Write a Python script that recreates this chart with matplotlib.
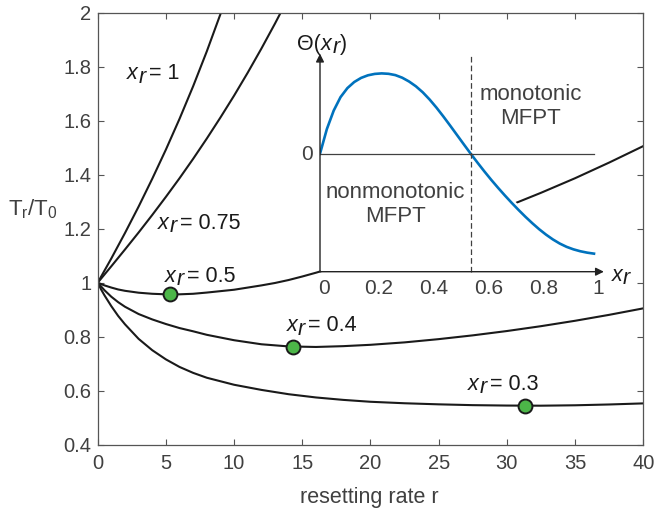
import numpy as np
import matplotlib
matplotlib.use('Agg')
import matplotlib.pyplot as plt
import matplotlib.patheffects as pe

plt.rcParams['font.family'] = ['Liberation Sans', 'DejaVu Sans']
plt.rcParams['mathtext.fontset'] = 'custom'
plt.rcParams['mathtext.rm'] = 'Liberation Sans'
plt.rcParams['mathtext.it'] = 'Liberation Sans:italic'

# T_r/T_0 against resetting rate r, one curve per resetting position x_r
r_1 = [0, 1, 2, 3, 4, 5, 6, 7, 8, 9, 9.3]
t_1 = [1.0, 1.09, 1.184, 1.282, 1.385, 1.493, 1.607, 1.728, 1.857, 1.995, 2.04]

r_075 = [0, 1, 2, 3, 4, 5, 6, 7, 8, 9, 10, 11, 12, 13, 14]
t_075 = [1.0, 1.061, 1.123, 1.186, 1.251, 1.318, 1.387, 1.459, 1.534, 1.612,
         1.693, 1.778, 1.867, 1.96, 2.057]

r_05 = [0, 0.5, 1, 1.5, 2, 3, 4, 5, 6, 7, 8, 10, 12, 13, 14, 15, 16, 18, 20,
        22.5, 25, 27.5, 30, 32.5, 35, 37.5, 40]
t_05 = [1.0, 0.99, 0.982, 0.975, 0.97, 0.963, 0.959, 0.957, 0.957, 0.959, 0.9635,
        0.974, 0.99, 0.999, 1.01, 1.023, 1.037, 1.067, 1.099, 1.141, 1.186, 1.233,
        1.282, 1.333, 1.387, 1.445, 1.506]

r_04 = [0, 0.5, 1, 1.5, 2, 3, 4, 5, 6, 7, 8, 10, 12, 14, 16, 18, 20, 22.5, 25,
        27.5, 30, 32.5, 35, 37.5, 40]
t_04 = [1.0, 0.972, 0.948, 0.928, 0.911, 0.884, 0.864, 0.847, 0.832, 0.82, 0.807,
        0.787, 0.772, 0.764, 0.762, 0.765, 0.77, 0.779, 0.791, 0.805, 0.821,
        0.839, 0.859, 0.881, 0.905]

r_03 = [0, 0.25, 0.5, 1, 1.5, 2, 3, 4, 5, 6, 7, 8, 10, 12, 14, 16, 18, 20, 22.5,
        25, 27.5, 30, 32.5, 35, 37.5, 40]
t_03 = [1.0, 0.975, 0.953, 0.913, 0.877, 0.846, 0.792, 0.75, 0.716, 0.688, 0.666,
        0.648, 0.622, 0.603, 0.587, 0.575, 0.566, 0.559, 0.5535, 0.5495, 0.5465,
        0.545, 0.5445, 0.546, 0.549, 0.553]

xr_names = ['1', '0.75', '0.5', '0.4', '0.3']

# optimal resetting rates (green dots)
r_opt = [5.3, 14.3, 31.3]
t_opt = [0.957, 0.762, 0.544]

# inset: Theta(x_r), read every 0.025
x_in = np.linspace(0, 1, 41)
theta = [0, 0.246, 0.431, 0.566, 0.656, 0.717, 0.758, 0.784, 0.798, 0.803,
         0.799, 0.786, 0.760, 0.722, 0.674, 0.614, 0.542, 0.461, 0.373, 0.281,
         0.187, 0.093, 0.0, -0.09, -0.1775, -0.2615, -0.3415, -0.4185, -0.4925,
         -0.5635, -0.6315, -0.6955, -0.7555, -0.8095, -0.8575, -0.8985, -0.9315,
         -0.9565, -0.9755, -0.9895, -0.9995]
x_crit = 0.55
in_ticks = [0, 0.2, 0.4, 0.6, 0.8, 1]
in_ticklabels = ['0', '0.2', '0.4', '0.6', '0.8', '1']

xticks = np.arange(0, 41, 5)
yticks = [0.4, 0.6, 0.8, 1.0, 1.2, 1.4, 1.6, 1.8, 2.0]
yticklabels = ['0.4', '0.6', '0.8', '1', '1.2', '1.4', '1.6', '1.8', '2']

ink = '#1a1a1a'
grey = '#404040'


def chain_text(a, x, y, parts, size, color=ink):
    # pieces of text set one after another: (text, style, drop in pt, gap in pt)
    s, st, drop, _ = parts[0]
    t = a.text(x, y, s, style=st, size=size, color=color)
    for s, st, d, gap in parts[1:]:
        t = a.annotate(s, xy=(1, 0), xycoords=t, xytext=(gap, drop - d),
                       textcoords='offset points', style=st, size=size,
                       color=color, ha='left', va='bottom')
        drop = d
    return t


def xr_parts(rest=None):
    parts = [('x', 'italic', 0, 0), ('r', 'italic', 2.5, 0.4)]
    if rest:
        parts.append((rest, 'normal', 0, 2.2))
    return parts


fig = plt.figure(figsize=(6.57, 5.15), dpi=100)
ax = fig.add_axes([0.1487, 0.1365, 0.8304, 0.8388])

for r, t in [(r_1, t_1), (r_075, t_075), (r_05, t_05), (r_04, t_04), (r_03, t_03)]:
    ax.plot(r, t, color=ink, lw=1.5)
ax.plot(r_opt, t_opt, 'o', ms=10, mfc='#4cb648', mec=ink, mew=1.4, zorder=5)

ax.set_xlim(0, 40)
ax.set_ylim(0.4, 2)
ax.set_xticks(xticks)
ax.set_yticks(yticks)
ax.set_yticklabels(yticklabels)
ax.tick_params(direction='in', top=True, right=True, length=4, width=0.8,
               color='#555555', labelcolor=grey, labelsize=14.5)
ax.tick_params(axis='x', pad=6.5)
ax.tick_params(axis='y', pad=4.5)
for sp in ax.spines.values():
    sp.set_color('#555555')
    sp.set_linewidth(0.9)

lab_r = [2.17, 4.44, 4.94, 13.86, 27.17]
lab_t = [1.754, 1.199, 1.003, 0.821, 0.603]
for name, x, y in zip(xr_names, lab_r, lab_t):
    chain_text(ax, x, y, xr_parts('= ' + name), 15.5)

fig.text(0.5626, 1 - 497 / 515, 'resetting rate r', ha='center', va='center',
         size=15.5, color=grey)
fig.text(8.3 / 657, 1 - 215 / 515, r'$\mathrm{T_r/T_0}$', size=16, color=grey)

# inset
axi = fig.add_axes([320 / 657, 1 - 275 / 515, 300 / 657, 235 / 515])
axi.set_xlim(0, 300 / 274)
axi.set_ylim(-1.213, 1.137)
axi.axis('off')
y_ax = -1.18

axi.fill_between(x_in, theta, y_ax, color='white', lw=0, zorder=1)
axi.plot(x_in, theta, color='#0072bd', lw=1.9, zorder=2,
         path_effects=[pe.Stroke(linewidth=5, foreground='white'), pe.Normal()])
axi.plot([0, 1], [0, 0], color=grey, lw=0.9, zorder=3)
axi.plot([x_crit, x_crit], [y_ax, 1.0], color=grey, lw=0.9,
         linestyle=(0, (4.5, 2.5)), zorder=3)

arrow = dict(arrowstyle='-|>', color='#222222', lw=1, mutation_scale=12,
             shrinkA=0, shrinkB=0)
axi.annotate('', xy=(0, 1.0), xytext=(0, y_ax), arrowprops=arrow, zorder=4)
axi.annotate('', xy=(1.036, y_ax), xytext=(0, y_ax), arrowprops=arrow, zorder=4)

for x, s in zip(in_ticks, in_ticklabels):
    axi.text(x + 0.015, -1.405, s, ha='center', size=15, color=grey)
axi.text(-0.027, -0.063, '0', ha='right', size=15, color=grey)

chain_text(axi, -0.084, 1.037,
           [('Θ(', 'normal', 0, 0), ('x', 'italic', 0, 0.3),
            ('r', 'italic', 2.5, 0.4), (')', 'normal', 0, 0.4)], 15.5)
chain_text(axi, 1.065, -1.27, xr_parts(), 15.5)

axi.text(0.77, 0.472, 'monotonic\nMFPT', ha='center', va='center', size=16,
         color=grey, linespacing=1.25, zorder=5)
axi.text(0.274, -0.508, 'nonmonotonic\nMFPT', ha='center', va='center', size=16,
         color=grey, linespacing=1.25, zorder=5)

fig.savefig('out.png', dpi=100)
